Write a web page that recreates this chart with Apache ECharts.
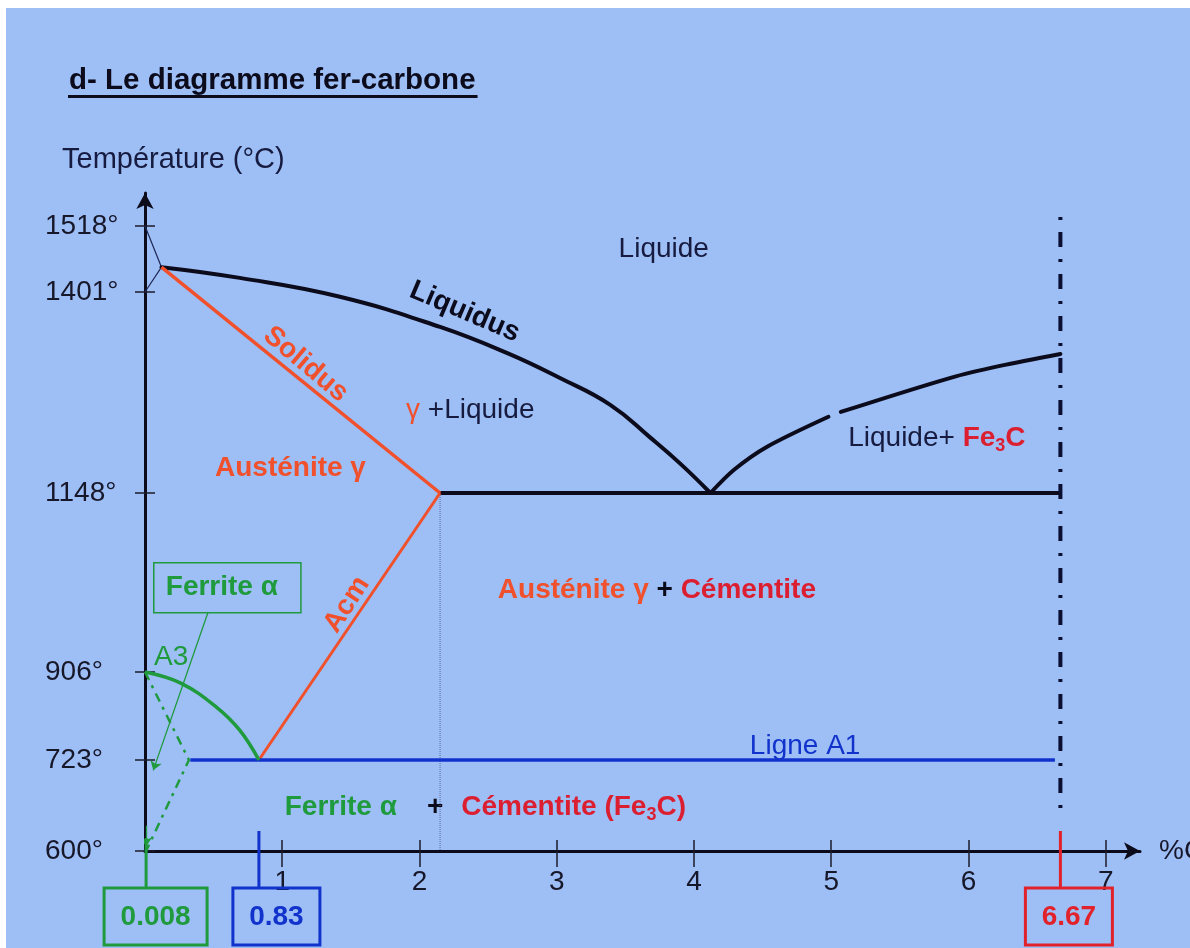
<!DOCTYPE html>
<html>
<head>
<meta charset="utf-8">
<script src="https://cdn.jsdelivr.net/npm/echarts@6/dist/echarts.min.js"></script>
<style>
  html, body { margin: 0; padding: 0; background: #ffffff; }
  #chart { width: 1190px; height: 948px; background: #9ebef6; box-shadow: inset 6px 8px 0 #ffffff; }
</style>
</head>
<body>
<div id="chart"></div>
<script>
// ---- Iron–carbon diagram data: carbon content (% C), temperature (°C) ----
const xTicks = [1, 2, 3, 4, 5, 6, 7];
const tempTicks = [600, 723, 906, 1148, 1401, 1518];

const deltaLens = [[0, 1518], [0.12, 1445], [0, 1401]];
const liquidusLeft = [[0.12, 1445], [0.69, 1426], [1.42, 1395], [2.15, 1357], [2.64, 1324],
                      [3.02, 1293], [3.39, 1259], [3.68, 1218], [3.90, 1185], [4.12, 1148]];
const liquidusRightLow = [[4.12, 1148], [4.29, 1177], [4.53, 1206], [4.98, 1244]];
const liquidusRightHigh = [[5.07, 1250], [5.87, 1293], [6.23, 1308], [6.67, 1323]];
const solidus = [[0.12, 1445], [2.15, 1148]];
const eutecticLine = [[2.15, 1148], [6.67, 1148]];
const acm = [[0.83, 723], [2.15, 1148]];
const a3 = [[0, 906], [0.26, 883], [0.52, 833], [0.69, 785], [0.83, 723]];
const ferriteSolvus = [[0, 906], [0.32, 723], [0.008, 600]];
const ligneA1 = [[0.33, 723], [6.63, 723]];
const austeniteLimit = [[2.15, 1148], [2.15, 600]];
const cementiteLine = [[6.67, 1534], [6.67, 649]];
const keyCompositions = [0.008, 0.83, 6.67];

// ---- Vertical scale: the labelled temperatures are spaced non-proportionally,
// with straight segments between them (extended beyond both ends). ----
const STEP_HEIGHTS = [0, 91, 179, 358, 559, 625];
const AXIS_TOP = 658;
function level(t) {
  let i = 0;
  while (i < tempTicks.length - 2 && t > tempTicks[i + 1]) i++;
  const t0 = tempTicks[i], t1 = tempTicks[i + 1];
  const h0 = STEP_HEIGHTS[i], h1 = STEP_HEIGHTS[i + 1];
  return h0 + (t - t0) * (h1 - h0) / (t1 - t0);
}
const toPlot = pts => pts.map(([c, t]) => [c, level(t)]);

// ---- Styles ----
const FONT = '"Liberation Sans", Arial, sans-serif';
const INK = '#0b0b1c';
const NAVY = '#161b3f';
const ORANGE = '#f0502b';
const CRIMSON = '#dc1f30';
const RED = '#e2222a';
const GREEN = '#1f9a3d';
const BLUE = '#1133cc';
const TICK = '#1b1b2b';

const TITLE = 'd- Le diagramme fer-carbone';

const base = { fontFamily: FONT, fontSize: 28, lineHeight: 34 };
const rich = {
  n:  Object.assign({}, base, { color: NAVY }),
  kb: Object.assign({}, base, { color: INK, fontWeight: 'bold' }),
  ob: Object.assign({}, base, { color: ORANGE, fontWeight: 'bold' }),
  o:  Object.assign({}, base, { color: ORANGE }),
  rb: Object.assign({}, base, { color: CRIMSON, fontWeight: 'bold' }),
  rs: { fontFamily: FONT, fontSize: 18, lineHeight: 18, color: CRIMSON, fontWeight: 'bold', verticalAlign: 'bottom' },
  gb: Object.assign({}, base, { color: GREEN, fontWeight: 'bold' }),
  g:  Object.assign({}, base, { color: GREEN }),
  b:  Object.assign({}, base, { color: BLUE }),
  pb: Object.assign({}, base, { color: INK, fontWeight: 'bold' }),
  pw: Object.assign({}, base, { color: INK, fontWeight: 'bold', padding: [0, 18, 0, 30] })
};

// Phase and line names, placed at (% C, °C)
const regionLabels = [
  { text: '{n|Liquide}', at: [3.78, 1477] },
  { text: '{kb|Liquidus}', at: [2.33, 1376], rotate: -23 },
  { text: '{ob|Solidus}', at: [1.17, 1310], rotate: -40 },
  { text: '{o|γ }{n|+Liquide}', at: [2.37, 1252] },
  { text: '{ob|Austénite γ}', at: [1.06, 1179] },
  { text: '{n|Liquide+ }{rb|Fe}{rs|3}{rb|C}', at: [5.77, 1217] },
  { text: '{ob|Austénite γ }{pb|+ }{rb|Cémentite}', at: [3.73, 1017] },
  { text: '{ob|Acm}', at: [1.47, 997], rotate: 57 },
  { text: '{gb|Ferrite α}', at: [0.60, 1020], box: true },
  { text: '{g|A3}', at: [0.19, 926] },
  { text: '{b|Ligne A1}', at: [4.81, 752] },
  { text: '{gb|Ferrite α}{pw|+}{rb|Cémentite (Fe}{rs|3}{rb|C)}', at: [2.48, 659] }
];

// Leader arrows: from the "Ferrite α" box into the ferrite field, and the
// solvus arrow onto 0.008 % C
const leaders = [
  [[0.46, 987], [0.06, 709]],
  [[0.008, 634], [0.008, 606]]
];

// Callout boxes under the axis for the key compositions
const CALLOUTS = [
  { color: GREEN, rise: 13, dx: 9.5, width: 103 },
  { color: BLUE, rise: 20, dx: 17.5, width: 87 },
  { color: RED, rise: 20, dx: 8.5, width: 87 }
];

function lineSeries(data, style, extra) {
  return Object.assign({
    type: 'line', data: toPlot(data), symbol: 'none', silent: true,
    clip: false, lineStyle: style
  }, extra || {});
}

const TITLE_SIZE = 29.5;
const ctx = document.createElement('canvas').getContext('2d');
ctx.font = 'bold ' + TITLE_SIZE + 'px ' + FONT;
const titleWidth = ctx.measureText(TITLE).width;

const tickStyle = { color: TICK, width: 1.5 };
const labelFont = { fontFamily: FONT, fontSize: 28, color: '#17172a' };

const option = {
  backgroundColor: 'transparent',
  animation: false,
  textStyle: { fontFamily: FONT },
  title: [
    { text: TITLE, left: 69, top: 66, padding: 0,
      textStyle: { fontFamily: FONT, fontSize: TITLE_SIZE, fontWeight: 'bold', color: INK, lineHeight: 30 } },
    { text: 'Température (°C)', left: 62, top: 145, padding: 0,
      textStyle: { fontFamily: FONT, fontSize: 29, fontWeight: 'normal', color: NAVY, lineHeight: 30 } }
  ],
  graphic: [
    { type: 'rect', silent: true, shape: { x: 68, y: 95, width: titleWidth + 3, height: 3 }, style: { fill: INK } }
  ],
  grid: { left: 145, right: 50, top: 193, bottom: 97, containLabel: false, outerBoundsMode: 'none' },
  xAxis: [
    {
      type: 'value', min: 0, max: 7.25,
      axisLine: { show: true, onZero: false, symbol: ['none', 'arrow'], symbolSize: [13, 16], lineStyle: { color: INK, width: 3 } },
      axisTick: { show: true, length: 16, customValues: xTicks, lineStyle: tickStyle },
      axisLabel: Object.assign({ show: true, customValues: xTicks, margin: 17 }, labelFont),
      splitLine: { show: false },
      name: '%C', nameLocation: 'end', nameGap: 19,
      nameTextStyle: Object.assign({ align: 'left', verticalAlign: 'middle' }, labelFont)
    },
    {
      type: 'value', min: 0, max: 7.25, position: 'bottom',
      axisLine: { show: false, onZero: false },
      axisTick: { show: true, inside: true, length: 11, customValues: xTicks, lineStyle: tickStyle },
      axisLabel: { show: false }, splitLine: { show: false }
    }
  ],
  yAxis: [
    {
      type: 'value', min: 0, max: AXIS_TOP,
      axisLine: { show: true, onZero: false, symbol: ['none', 'arrow'], symbolSize: [13, 16], lineStyle: { color: INK, width: 3 } },
      axisTick: { show: true, length: 10, customValues: tempTicks.map(level), lineStyle: tickStyle },
      axisLabel: Object.assign({
        show: true, customValues: tempTicks.map(level), margin: 100, align: 'left',
        formatter: v => {
          const i = STEP_HEIGHTS.findIndex(h => Math.abs(h - v) < 0.5);
          return i >= 0 ? tempTicks[i] + '°' : '';
        }
      }, labelFont),
      splitLine: { show: false }
    },
    {
      type: 'value', min: 0, max: AXIS_TOP, position: 'left',
      axisLine: { show: false, onZero: false },
      axisTick: { show: true, inside: true, length: 10, customValues: tempTicks.map(level), lineStyle: tickStyle },
      axisLabel: { show: false }, splitLine: { show: false }
    }
  ],
  series: [
    lineSeries(austeniteLimit, { color: '#5a6a9a', width: 1, type: 'dotted' }),
    lineSeries(deltaLens, { color: '#1e2752', width: 1.2 }),
    lineSeries(liquidusLeft, { color: INK, width: 4, cap: 'round' }, { smooth: 0.45 }),
    lineSeries(liquidusRightLow, { color: INK, width: 4, cap: 'round' }, { smooth: 0.3 }),
    lineSeries(liquidusRightHigh, { color: INK, width: 4, cap: 'round' }, { smooth: 0.3 }),
    lineSeries(eutecticLine, { color: INK, width: 4 }),
    lineSeries(solidus, { color: ORANGE, width: 3.5 }),
    lineSeries(acm, { color: ORANGE, width: 3 }),
    lineSeries(ligneA1, { color: BLUE, width: 3.5 }),
    lineSeries(a3, { color: GREEN, width: 3.5 }, { smooth: 0.4 }),
    lineSeries(ferriteSolvus, { color: GREEN, width: 2.5, type: [9, 6, 3, 6] }),
    lineSeries(cementiteLine, { color: '#0a0e30', width: 4, type: [15, 12, 3, 12], dashOffset: 27 }),
    {
      type: 'lines', coordinateSystem: 'cartesian2d', silent: true,
      symbol: ['none', 'arrow'], symbolSize: 9,
      lineStyle: { color: GREEN, width: 1.3, opacity: 1 },
      data: leaders.map(seg => ({ coords: toPlot(seg) }))
    },
    {
      type: 'custom', silent: true, clip: false,
      data: keyCompositions.map(c => [c, level(600)]),
      encode: { x: 0, y: 1 },
      renderItem: (params, api) => {
        const i = params.dataIndex;
        const st = CALLOUTS[i];
        const p = api.coord([api.value(0), api.value(1)]);
        const cx = p[0] + st.dx;
        return {
          type: 'group',
          children: [
            { type: 'line', shape: { x1: p[0], y1: p[1] - st.rise, x2: p[0], y2: p[1] + 36 },
              style: { stroke: st.color, lineWidth: 3 } },
            { type: 'rect', shape: { x: cx - st.width / 2, y: p[1] + 37, width: st.width, height: 57 },
              style: { fill: 'none', stroke: st.color, lineWidth: 3 } },
            { type: 'text', style: { text: String(keyCompositions[i]), x: cx, y: p[1] + 66,
              align: 'center', verticalAlign: 'middle', font: 'bold 28px ' + FONT, fill: st.color } }
          ]
        };
      }
    },
    {
      type: 'scatter', silent: true, symbolSize: 1,
      itemStyle: { color: 'rgba(0,0,0,0)', borderWidth: 0, opacity: 1 },
      data: regionLabels.map(r => ({
        value: [r.at[0], level(r.at[1])],
        label: Object.assign({ rotate: r.rotate || 0 },
          r.box ? { borderColor: GREEN, borderWidth: 1.5, padding: [8, 23, 8, 12] } : {})
      })),
      label: {
        show: true, position: 'inside', align: 'center', verticalAlign: 'middle',
        formatter: p => regionLabels[p.dataIndex].text, rich: rich
      },
      labelLayout: { hideOverlap: false }
    }
  ]
};

const chart = echarts.init(document.getElementById('chart'), null, { renderer: 'canvas' });
chart.setOption(option);
</script>
</body>
</html>
